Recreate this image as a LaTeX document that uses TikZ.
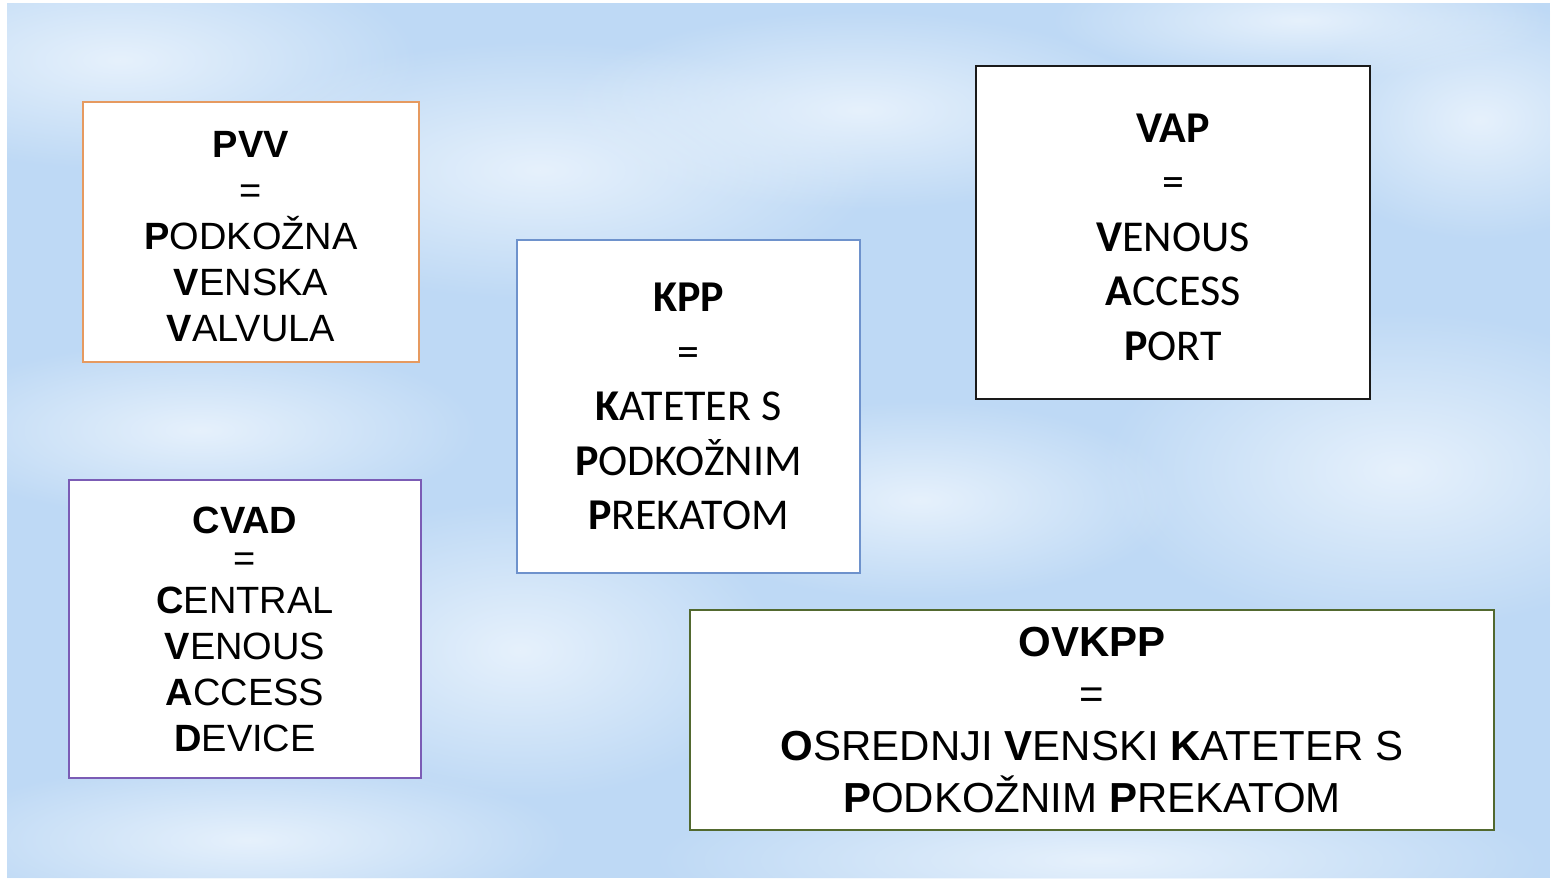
\documentclass[tikz,border=0pt]{standalone}
\usepackage{fontspec}
\usetikzlibrary{fadings}
\setmainfont{Liberation Sans}
\newfontfamily\calfont{Carlito}
\definecolor{sky}{HTML}{BED9F5}
\definecolor{cloudw}{HTML}{E6F1FC}
\definecolor{pvvc}{HTML}{E69A60}
\definecolor{kppc}{HTML}{6E92CC}
\definecolor{vapc}{HTML}{1A1A1A}
\definecolor{cvadc}{HTML}{7B5CB5}
\definecolor{ovkc}{HTML}{52692F}
\tikzfading[name=softcloud, inner color=transparent!0, outer color=transparent!100]
\tikzset{
  abox/.style={draw, fill=white, line width=2.8pt, inner sep=0pt, align=center, anchor=center},
  arialtext/.style={font=\fontsize{38}{46}\selectfont},
  calibritext/.style={font=\calfont\fontsize{44}{54.5}\selectfont},
  cloud/.style={fill=cloudw, path fading=softcloud},
}
\begin{document}
\begin{tikzpicture}[x=1pt,y=-1pt]
\useasboundingbox (0,0) rectangle (1552,878);
\fill[white] (0,0) rectangle (1552,878);
\fill[sky] (7,3) rectangle (1550,878);
% clouds
\begin{scope}
\clip (7,3) rectangle (1550,878);
\fill[cloud] (120,60) ellipse (300 and 110);
\fill[cloud] (540,170) ellipse (340 and 130);
\fill[cloud] (860,110) ellipse (300 and 100);
\fill[cloud] (1400,470) ellipse (300 and 160);
\fill[cloud] (520,650) ellipse (260 and 150);
\fill[cloud] (200,430) ellipse (280 and 90);
\fill[cloud] (920,500) ellipse (260 and 100);
\fill[cloud] (1100,860) ellipse (450 and 80);
\fill[cloud] (1480,120) ellipse (180 and 120);
\fill[cloud] (250,840) ellipse (320 and 80);
\fill[cloud] (1300,20) ellipse (250 and 60);
\end{scope}
% boxes
\node[abox, draw=pvvc, arialtext, minimum width=336pt, minimum height=260pt] (pvv) at (251,232)
  {\rule{0pt}{35pt}\textbf{PVV}\\=\\\textbf{P}ODKOŽNA\\\textbf{V}ENSKA\\\textbf{V}ALVULA};
\node[abox, draw=kppc, calibritext, minimum width=343pt, minimum height=333pt] (kpp) at (688.5,406.5)
  {\textbf{KPP}\\=\\\textbf{K}ATETER S\\\textbf{P}ODKOŽNIM\\\textbf{P}REKATOM};
\node[abox, draw=vapc, calibritext, minimum width=394pt, minimum height=333pt] (vap) at (1173,232.5)
  {\rule{0pt}{38pt}\textbf{VAP}\\=\\\textbf{V}ENOUS\\\textbf{A}CCESS\\\textbf{P}ORT};
\node[abox, draw=cvadc, arialtext, minimum width=352pt, minimum height=298pt] (cvad) at (245,629)
  {\textbf{CVAD}\\[-8pt]=\\[-4pt]\textbf{C}ENTRAL\\\textbf{V}ENOUS\\\textbf{A}CCESS\\\textbf{D}EVICE};
\node[abox, draw=ovkc, font=\fontsize{42}{52}\selectfont, minimum width=804pt, minimum height=220pt] (ovkpp) at (1092,720)
  {\textbf{OVKPP}\\=\\\textbf{O}SREDNJI \textbf{V}ENSKI \textbf{K}ATETER S\\\textbf{P}ODKOŽNIM \textbf{P}REKATOM};
\end{tikzpicture}
\end{document}
